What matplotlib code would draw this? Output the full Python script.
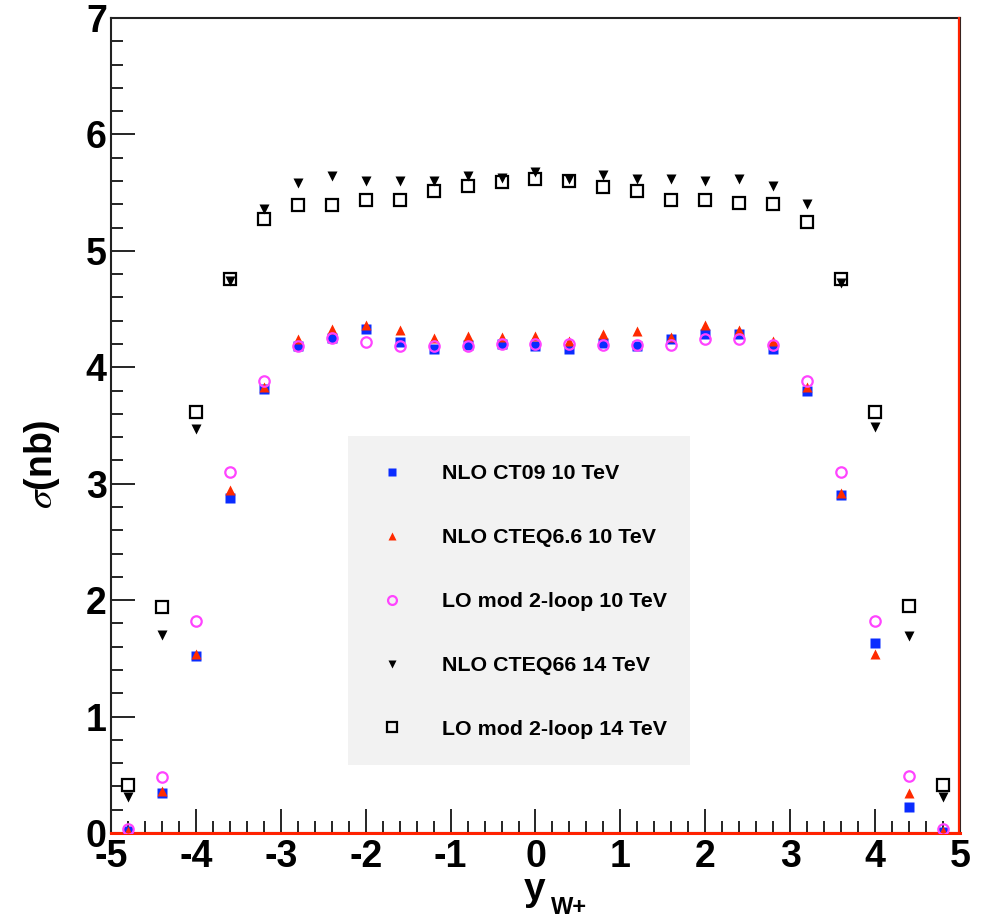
import numpy as np
import matplotlib
matplotlib.use('Agg')
import matplotlib.pyplot as plt
from matplotlib.patches import Rectangle
from matplotlib.ticker import MultipleLocator

# rapidity bins
y_w = [-4.8, -4.4, -4.0, -3.6, -3.2, -2.8, -2.4, -2.0, -1.6, -1.2, -0.8, -0.4, 0.0,
       0.4, 0.8, 1.2, 1.6, 2.0, 2.4, 2.8, 3.2, 3.6, 4.0, 4.4, 4.8]

nlo_ct09_10 = [0.02, 0.34, 1.52, 2.88, 3.81, 4.18, 4.25, 4.33, 4.22, 4.16, 4.19, 4.20, 4.18,
               4.16, 4.21, 4.18, 4.24, 4.29, 4.29, 4.16, 3.80, 2.90, 1.63, 0.22, 0.01]
nlo_cteq66_10 = [0.02, 0.36, 1.54, 2.95, 3.83, 4.24, 4.33, 4.36, 4.32, 4.25, 4.27, 4.26, 4.27,
                 4.23, 4.29, 4.31, 4.26, 4.36, 4.32, 4.23, 3.83, 2.92, 1.54, 0.34, 0.02]
lo_2loop_10 = [0.03, 0.48, 1.82, 3.10, 3.88, 4.18, 4.25, 4.22, 4.18, 4.18, 4.18, 4.20, 4.20,
               4.20, 4.19, 4.19, 4.19, 4.24, 4.24, 4.19, 3.88, 3.10, 1.82, 0.49, 0.03]
nlo_cteq66_14 = [0.31, 1.70, 3.47, 4.74, 5.36, 5.58, 5.64, 5.60, 5.60, 5.60, 5.64, 5.63, 5.68,
                 5.62, 5.65, 5.62, 5.62, 5.60, 5.62, 5.56, 5.40, 4.72, 3.49, 1.69, 0.31]
lo_2loop_14 = [0.41, 1.94, 3.62, 4.76, 5.27, 5.39, 5.39, 5.44, 5.44, 5.51, 5.56, 5.59, 5.62,
               5.60, 5.55, 5.51, 5.44, 5.44, 5.41, 5.40, 5.25, 4.76, 3.62, 1.95, 0.41]

labels = ['NLO CT09 10 TeV', 'NLO CTEQ6.6 10 TeV', 'LO mod 2-loop 10 TeV',
          'NLO CTEQ66 14 TeV', 'LO mod 2-loop 14 TeV']

plt.rcParams['font.family'] = ['Liberation Sans', 'DejaVu Sans']
plt.rcParams['axes.unicode_minus'] = False
plt.rcParams['mathtext.fontset'] = 'stix'

fig = plt.figure(figsize=(9.84, 9.24), dpi=100)
ax = fig.add_axes([0.1128, 0.0985, 0.8628, 0.8820])

ax.plot(y_w, nlo_ct09_10, 's', color='#0a2cff', ms=6.5, mec='none', label=labels[0], zorder=4)
ax.plot(y_w, nlo_cteq66_10, '^', color='#ff2a00', ms=7, mec='none', label=labels[1], zorder=4)
ax.plot(y_w, lo_2loop_10, 'o', mfc='none', mec='#ff44ff', mew=1.6, ms=7.5, label=labels[2], zorder=5)
ax.plot(y_w, nlo_cteq66_14, 'v', color='black', ms=7, mec='none', label=labels[3], zorder=4)
ax.plot(y_w, lo_2loop_14, 's', mfc='none', mec='black', mew=1.6, ms=8, label=labels[4], zorder=4)

# red histogram frame along bottom and right edge
ax.plot([-5, 5], [0, 0], color='#ff2200', lw=2.2, clip_on=False, zorder=3)
ax.plot([4.985, 4.985], [0, 7], color='#ff2200', lw=1.6, clip_on=False, zorder=3)

ax.set_xlim(-5, 5)
ax.set_ylim(0, 7)
ax.xaxis.set_major_locator(MultipleLocator(1))
ax.xaxis.set_minor_locator(MultipleLocator(0.2))
ax.yaxis.set_major_locator(MultipleLocator(1))
ax.yaxis.set_minor_locator(MultipleLocator(0.2))
ax.tick_params(which='both', direction='in', width=1.2, top=False, right=False)
ax.tick_params(which='major', length=17)
ax.tick_params(which='minor', length=8.5)
ax.tick_params(axis='y', labelsize=27, pad=3)
ax.tick_params(axis='x', labelsize=27, pad=4)
for lab in ax.get_yticklabels() + ax.get_xticklabels():
    lab.set_fontweight('bold')
for sp in ax.spines.values():
    sp.set_linewidth(1.5)
    sp.set_color('#222222')

ax.set_ylabel(r'$\sigma$(nb)', fontsize=27, fontweight='bold')
ax.yaxis.set_label_coords(-0.058, 0.452)

fig.text(535 / 984, 1 - 890 / 924, 'y', fontsize=28, fontweight='bold', ha='center', va='center')
fig.text(569 / 984, 1 - 907 / 924, 'W+', fontsize=17, fontweight='bold', ha='center', va='center')

# legend: grey box, entries without frame
ax.add_patch(Rectangle((0.279, 0.0834), 0.403, 0.404, transform=ax.transAxes,
                       facecolor='#f2f2f2', edgecolor='none', zorder=1))
handles, _ = ax.get_legend_handles_labels()
leg = ax.legend(handles, labels, loc='upper left', bbox_to_anchor=(0.297, 0.476),
                frameon=False, prop={'weight': 'bold', 'size': 15.4},
                handlelength=0.9, handletextpad=1.9, labelspacing=2.1, markerscale=0.85)

fig.savefig('out.png', dpi=100)
